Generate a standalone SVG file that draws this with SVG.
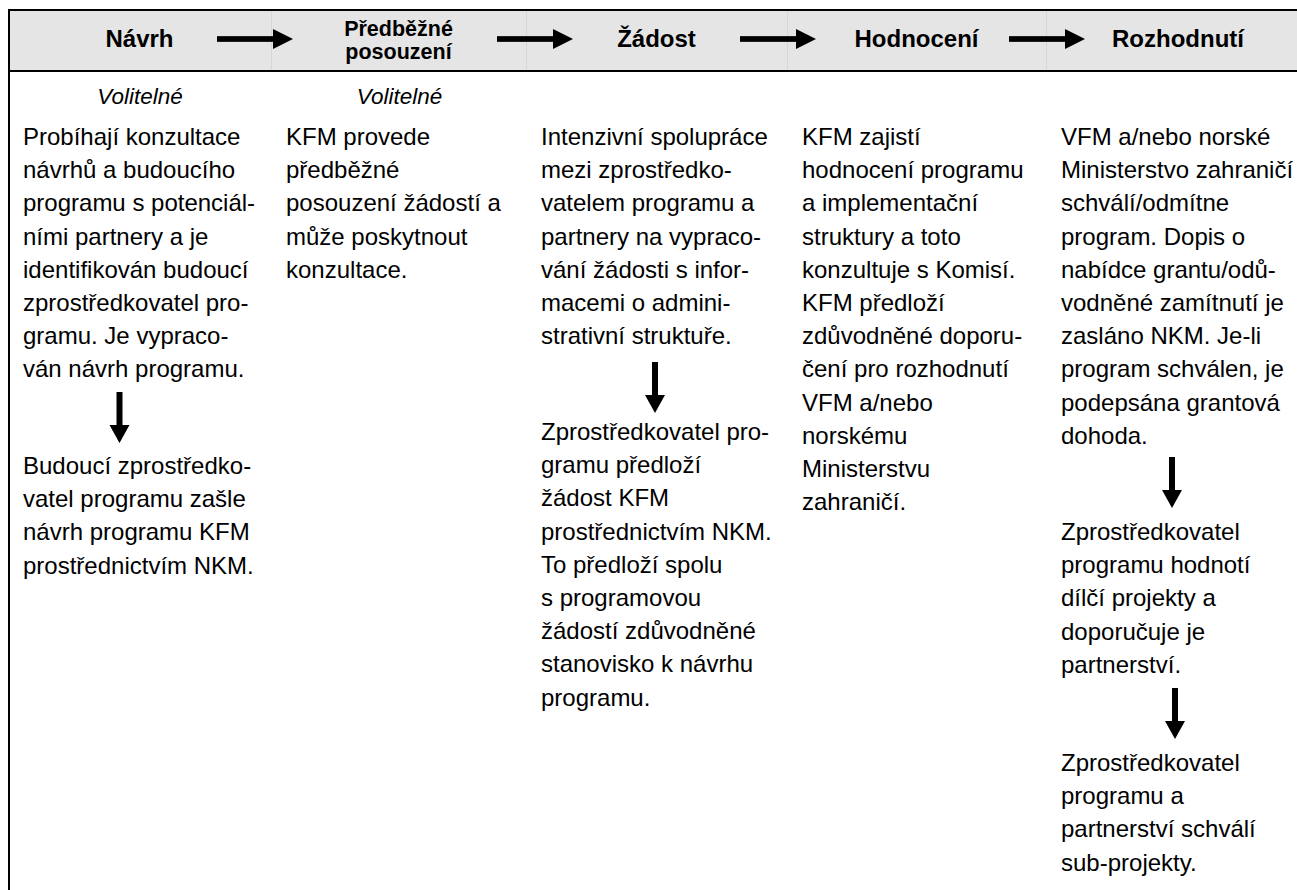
<svg xmlns="http://www.w3.org/2000/svg" width="1297" height="890" viewBox="0 0 1297 890">
<defs>
<style>
.hd{font-family:"Liberation Sans",Arial,sans-serif;font-size:24px;font-weight:bold;fill:#000;text-anchor:middle}
.hd2{font-family:"Liberation Sans",Arial,sans-serif;font-size:21.5px;font-weight:bold;fill:#000;text-anchor:middle}
.bt{font-family:"Liberation Sans",Arial,sans-serif;font-size:24px;fill:#000}
.it{font-family:"Liberation Sans",Arial,sans-serif;font-size:22.5px;font-style:italic;fill:#000;text-anchor:middle}
.border{stroke:#000;stroke-width:2;fill:none}
.cell{stroke:#d6d6d6;stroke-width:1;fill:none}
.arr{fill:#000}
</style>
<symbol id="rarrow" overflow="visible"><rect x="0" y="-2.85" width="57" height="5.7"/><polygon points="56,-10 76,0 56,10"/></symbol>
<symbol id="darrow" overflow="visible"><rect x="-3" y="0" width="6" height="34"/><polygon points="-10,33 10,33 0,51"/></symbol>
</defs>
<rect x="0" y="0" width="1297" height="890" fill="#fff"/>
<g id="header">
<rect x="9" y="10" width="1288" height="61" fill="#e5e5e5"/>
<line class="cell" x1="271.5" y1="11" x2="271.5" y2="70"/>
<line class="cell" x1="526.5" y1="11" x2="526.5" y2="70"/>
<line class="cell" x1="787.5" y1="11" x2="787.5" y2="70"/>
<line class="cell" x1="1046.5" y1="11" x2="1046.5" y2="70"/>
<line class="border" x1="8" y1="10" x2="1297" y2="10"/>
<line class="border" x1="8" y1="71" x2="1297" y2="71"/>
<line class="border" x1="9" y1="9" x2="9" y2="890"/>
</g>
<g id="stage-navrh">
<text class="hd" x="139.5" y="47">Návrh</text>
<text class="it" x="140" y="104">Volitelné</text>
<text class="bt"><tspan x="23" y="145">Probíhají konzultace</tspan><tspan x="23" dy="33.2">návrhů a budoucího</tspan><tspan x="23" dy="33.2">programu s potenciál-</tspan><tspan x="23" dy="33.2">ními partnery a je</tspan><tspan x="23" dy="33.2">identifikován budoucí</tspan><tspan x="23" dy="33.2">zprostředkovatel pro-</tspan><tspan x="23" dy="33.2">gramu. Je vypraco-</tspan><tspan x="23" dy="33.2">ván návrh programu.</tspan></text>
<text class="bt"><tspan x="23" y="474">Budoucí zprostředko-</tspan><tspan x="23" dy="33.2">vatel programu zašle</tspan><tspan x="23" dy="33.2">návrh programu KFM</tspan><tspan x="23" dy="33.2">prostřednictvím NKM.</tspan></text>
</g>
<g id="stage-predbezne">
<text class="hd2"><tspan x="398.5" y="36">Předběžné</tspan><tspan x="398.5" y="59">posouzení</tspan></text>
<text class="it" x="399.5" y="104">Volitelné</text>
<text class="bt"><tspan x="286" y="145">KFM provede</tspan><tspan x="286" dy="33.2">předběžné</tspan><tspan x="286" dy="33.2">posouzení žádostí a</tspan><tspan x="286" dy="33.2">může poskytnout</tspan><tspan x="286" dy="33.2">konzultace.</tspan></text>
</g>
<g id="stage-zadost">
<text class="hd" x="656.5" y="47">Žádost</text>
<text class="bt"><tspan x="541" y="145">Intenzivní spolupráce</tspan><tspan x="541" dy="33.2">mezi zprostředko-</tspan><tspan x="541" dy="33.2">vatelem programu a</tspan><tspan x="541" dy="33.2">partnery na vypraco-</tspan><tspan x="541" dy="33.2">vání žádosti s infor-</tspan><tspan x="541" dy="33.2">macemi o admini-</tspan><tspan x="541" dy="33.2">strativní struktuře.</tspan></text>
<text class="bt"><tspan x="541" y="440">Zprostředkovatel pro-</tspan><tspan x="541" dy="33.2">gramu předloží</tspan><tspan x="541" dy="33.2">žádost KFM</tspan><tspan x="541" dy="33.2">prostřednictvím NKM.</tspan><tspan x="541" dy="33.2">To předloží spolu</tspan><tspan x="541" dy="33.2">s programovou</tspan><tspan x="541" dy="33.2">žádostí zdůvodněné</tspan><tspan x="541" dy="33.2">stanovisko k návrhu</tspan><tspan x="541" dy="33.2">programu.</tspan></text>
</g>
<g id="stage-hodnoceni">
<text class="hd" x="916.5" y="47">Hodnocení</text>
<text class="bt"><tspan x="802" y="145">KFM zajistí</tspan><tspan x="802" dy="33.2">hodnocení programu</tspan><tspan x="802" dy="33.2">a implementační</tspan><tspan x="802" dy="33.2">struktury a toto</tspan><tspan x="802" dy="33.2">konzultuje s Komisí.</tspan><tspan x="802" dy="33.2">KFM předloží</tspan><tspan x="802" dy="33.2">zdůvodněné doporu-</tspan><tspan x="802" dy="33.2">čení pro rozhodnutí</tspan><tspan x="802" dy="33.2">VFM a/nebo</tspan><tspan x="802" dy="33.2">norskému</tspan><tspan x="802" dy="33.2">Ministerstvu</tspan><tspan x="802" dy="33.2">zahraničí.</tspan></text>
</g>
<g id="stage-rozhodnuti">
<text class="hd" x="1178" y="47">Rozhodnutí</text>
<text class="bt"><tspan x="1061" y="145">VFM a/nebo norské</tspan><tspan x="1061" dy="33.2">Ministerstvo zahraničí</tspan><tspan x="1061" dy="33.2">schválí/odmítne</tspan><tspan x="1061" dy="33.2">program. Dopis o</tspan><tspan x="1061" dy="33.2">nabídce grantu/odů-</tspan><tspan x="1061" dy="33.2">vodněné zamítnutí je</tspan><tspan x="1061" dy="33.2">zasláno NKM. Je-li</tspan><tspan x="1061" dy="33.2">program schválen, je</tspan><tspan x="1061" dy="33.2">podepsána grantová</tspan><tspan x="1061" dy="33.2">dohoda.</tspan></text>
<text class="bt"><tspan x="1061" y="540">Zprostředkovatel</tspan><tspan x="1061" dy="33.2">programu hodnotí</tspan><tspan x="1061" dy="33.2">dílčí projekty a</tspan><tspan x="1061" dy="33.2">doporučuje je</tspan><tspan x="1061" dy="33.2">partnerství.</tspan></text>
<text class="bt"><tspan x="1061" y="771">Zprostředkovatel</tspan><tspan x="1061" dy="33.2">programu a</tspan><tspan x="1061" dy="33.2">partnerství schválí</tspan><tspan x="1061" dy="33.2">sub-projekty.</tspan></text>
</g>
<g id="connectors" class="arr">
<use href="#rarrow" x="217" y="39"/>
<use href="#rarrow" x="497" y="39"/>
<use href="#rarrow" x="740" y="39"/>
<use href="#rarrow" x="1009" y="39"/>
<use href="#darrow" x="119.5" y="392"/>
<use href="#darrow" x="655" y="362"/>
<use href="#darrow" x="1172" y="457"/>
<use href="#darrow" x="1175" y="688"/>
</g>
</svg>
